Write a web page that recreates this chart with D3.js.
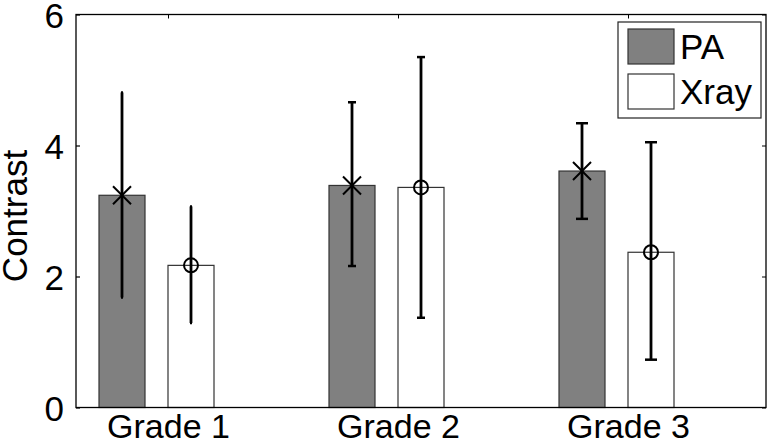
<!DOCTYPE html>
<html>
<head>
<meta charset="utf-8">
<script src="https://cdn.jsdelivr.net/npm/d3@7"></script>
<style>
  body { margin: 0; background: #fff; }
  svg { display: block; }
  text { font-family: Arial, "Liberation Sans", sans-serif; fill: #000; }
</style>
</head>
<body>
<div id="chart"></div>
<script>
const grades = ['Grade 1', 'Grade 2', 'Grade 3'];
const yTicks = [0, 2, 4, 6];
const seriesNames = ['PA', 'Xray'];

// bar heights (mean) and error bar ends
const paMean = [3.24, 3.39, 3.61];
const paLow = [1.68, 2.16, 2.88];
const paHigh = [4.81, 4.66, 4.34];
const xrayMean = [2.17, 3.36, 2.37];
const xrayLow = [1.29, 1.37, 0.73];
const xrayHigh = [3.07, 5.35, 4.05];

const width = 767;
const height = 445;

const svg = d3.select('#chart').append('svg')
  .attr('width', width)
  .attr('height', height);

// matlab-ish axes: bars at i-0.2 (PA) and i+0.1 (Xray), width 0.2
const xScale = d3.scaleLinear().domain([0.6, 3.6]).range([76, 766]);
const yScale = d3.scaleLinear().domain([0, 6]).range([407.5, 14.5]);
const barW = 0.2;
const offsets = [-0.2, 0.1];
const capHalf = [1, 4, 6];

const series = [
  { name: 'PA', mean: paMean, low: paLow, high: paHigh, fill: '#808080', marker: 'x' },
  { name: 'Xray', mean: xrayMean, low: xrayLow, high: xrayHigh, fill: '#ffffff', marker: 'o' },
];

const x0 = xScale.range()[0];
const x1 = xScale.range()[1];
const y0 = yScale.range()[0];
const y1 = yScale.range()[1];

// bars
series.forEach((s, si) => {
  svg.append('g').selectAll('rect')
    .data(s.mean)
    .enter().append('rect')
    .attr('x', (d, i) => xScale(i + 1 + offsets[si] - barW / 2))
    .attr('width', xScale(barW) - xScale(0))
    .attr('y', d => yScale(d))
    .attr('height', d => y0 - yScale(d))
    .attr('fill', s.fill)
    .attr('stroke', '#333')
    .attr('stroke-width', 1.2);
});

// error bars + markers
series.forEach((s, si) => {
  const g = svg.append('g')
    .attr('stroke', '#000')
    .attr('fill', 'none');
  s.mean.forEach((m, i) => {
    const cx = xScale(i + 1 + offsets[si]);
    const ch = capHalf[i];
    g.append('line')
      .attr('x1', cx).attr('x2', cx)
      .attr('y1', yScale(s.low[i])).attr('y2', yScale(s.high[i]))
      .attr('stroke-width', 2.8);
    [s.low[i], s.high[i]].forEach((v) => {
      g.append('line')
        .attr('x1', cx - ch).attr('x2', cx + ch)
        .attr('y1', yScale(v)).attr('y2', yScale(v))
        .attr('stroke-width', 2.5);
    });
    const cy = yScale(m);
    if (s.marker === 'x') {
      g.append('path')
        .attr('d', `M${cx - 9},${cy - 9}L${cx + 9},${cy + 9}M${cx - 9},${cy + 9}L${cx + 9},${cy - 9}`)
        .attr('stroke-width', 2);
    } else {
      g.append('circle')
        .attr('cx', cx).attr('cy', cy).attr('r', 7)
        .attr('stroke-width', 2);
    }
  });
});

// axes box
svg.append('rect')
  .attr('x', x0).attr('y', y1)
  .attr('width', x1 - x0).attr('height', y0 - y1)
  .attr('fill', 'none')
  .attr('stroke', '#000')
  .attr('stroke-width', 1.3);

const yAxis = d3.axisLeft(yScale)
  .tickValues(yTicks)
  .tickFormat(d3.format('d'))
  .tickSizeInner(-4)
  .tickSizeOuter(0)
  .tickPadding(12);

const yG = svg.append('g')
  .attr('transform', `translate(${x0},0)`)
  .call(yAxis);
yG.select('.domain').remove();
yG.selectAll('text').attr('font-size', 35).attr('dy', '0.36em');
yG.selectAll('line').attr('stroke-width', 1.2);

// right side mirrored ticks
const yR = svg.append('g')
  .attr('transform', `translate(${x1},0)`)
  .call(d3.axisRight(yScale).tickValues(yTicks).tickSizeInner(-4).tickSizeOuter(0).tickFormat(''));
yR.select('.domain').remove();

const xAxis = d3.axisBottom(xScale)
  .tickValues([1, 2, 3])
  .tickFormat((d, i) => grades[i])
  .tickSizeInner(0)
  .tickSizeOuter(0)
  .tickPadding(7);

const xG = svg.append('g')
  .attr('transform', `translate(0,${y0})`)
  .call(xAxis);
xG.select('.domain').remove();
xG.selectAll('text').attr('font-size', 34).attr('dy', '0.68em');

// top mirrored ticks
const xT = svg.append('g')
  .attr('transform', `translate(0,${y1})`)
  .call(d3.axisTop(xScale).tickValues([1, 2, 3]).tickSizeInner(-4).tickSizeOuter(0).tickFormat(''));
xT.select('.domain').remove();

svg.selectAll('.tick line').attr('stroke', '#000');

// y label
svg.append('text')
  .attr('transform', `translate(27,${(y0 + y1) / 2 + 5}) rotate(-90)`)
  .attr('text-anchor', 'middle')
  .attr('font-size', 35)
  .text('Contrast');

// legend
const legend = svg.append('g');
legend.append('rect')
  .attr('x', 618).attr('y', 22)
  .attr('width', 143).attr('height', 96)
  .attr('fill', '#fff')
  .attr('stroke', '#222')
  .attr('stroke-width', 1.2);

series.forEach((s, si) => {
  const ly = 29 + si * 45;
  legend.append('rect')
    .attr('x', 628).attr('y', ly)
    .attr('width', 46).attr('height', 35)
    .attr('fill', s.fill)
    .attr('stroke', '#333')
    .attr('stroke-width', 1.2);
  legend.append('text')
    .attr('x', 680)
    .attr('y', ly + 30)
    .attr('font-size', 35)
    .text(seriesNames[si]);
});
</script>
</body>
</html>
